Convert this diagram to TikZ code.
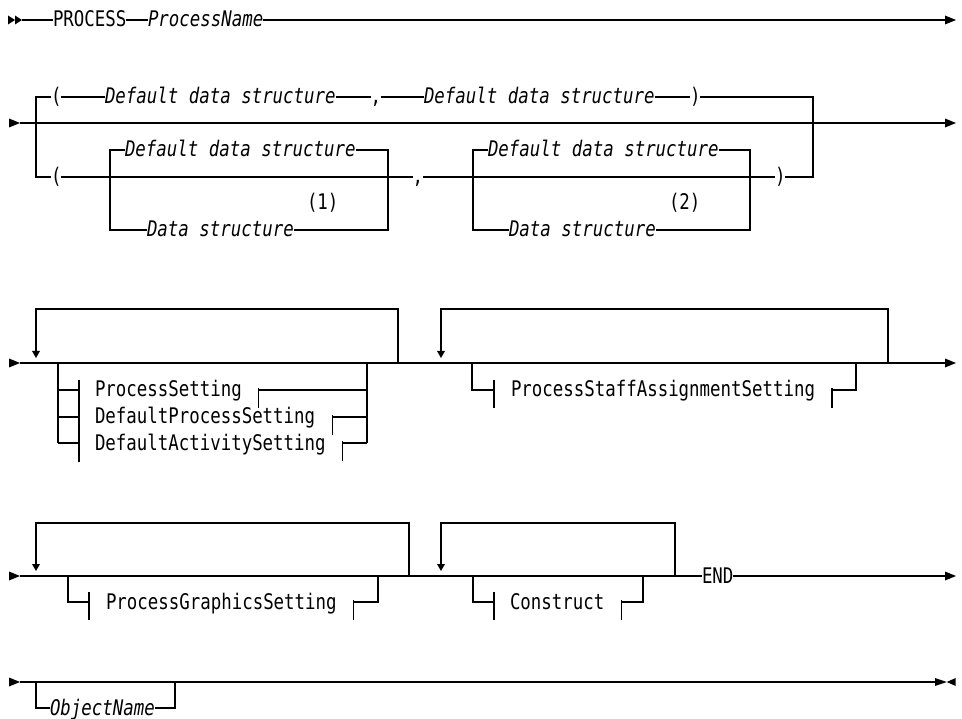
\documentclass[tikz,border=0pt]{standalone}
\usepackage{fontspec}
\newfontfamily\dgmfont[FakeStretch=0.81]{DejaVu Sans Mono}
\newcommand\dgmup{\dgmfont\fontsize{21.5}{24}\selectfont}
\newcommand\dgmit{\dgmfont\itshape\fontsize{21.5}{24}\selectfont}
\tikzset{
  ln/.style={line width=1.2pt, line cap=butt},
  txt/.style={inner sep=0pt, outer sep=0pt, anchor=west, text height=14pt, text depth=0pt, font=\dgmup},
  itx/.style={txt, font=\dgmit},
  rtri/.pic={\fill (-11,-4.5) -- (0,0) -- (-11,4.5) -- cycle;},
  rtris/.pic={\fill (-7,-4.5) -- (0,0) -- (-7,4.5) -- cycle;},
  ltri/.pic={\fill (9,-4) -- (0,0) -- (9,4) -- cycle;},
  rtrie/.pic={\fill (-11.7,-4) -- (0,0) -- (-11.7,4) -- cycle;},
  dtri/.pic={\fill (-4,-7) -- (0,0) -- (4,-7) -- cycle;},
}
\begin{document}
\begin{tikzpicture}[x=1pt,y=-1pt]
\useasboundingbox (0,0) rectangle (962,719);

% ---------------- Row 1 ----------------
\pic at (15,20) {rtris};
\pic at (22,20) {rtris};
\node[txt] (p1) at (53,20) {PROCESS};
\node[itx] (p2) at (148,20) {ProcessName};
\coordinate (e1) at (945,20);
\draw[ln] (22,20) -- (p1.west);
\draw[ln] (p1.east) -- (p2.west);
\draw[ln] (p2.east) -- (e1);
\pic at (956,20) {rtri};

% ---------------- Row 2 ----------------
\pic at (20,123) {rtri};
\draw[ln] (20,123) -- (945,123);
\pic at (956,123) {rtri};
% top branch
\node[txt] (lp1) at (51,97) {(};
\node[itx] (d1) at (105,97) {Default data structure};
\node[txt] (cm1) at (370.5,97) {,};
\node[itx] (d2) at (424,97) {Default data structure};
\node[txt] (rp1) at (690,97) {)};
% bottom branch
\node[txt] (lp2) at (51,177) {(};
\node[txt] (cm2) at (412.5,177) {,};
\node[txt] (rp2) at (775,177) {)};
\draw[ln] (lp1.west) -- (36,97) -- (36,177) -- (lp2.west);
\draw[ln] (lp1.east) -- (d1.west);
\draw[ln] (d1.east) -- (cm1.west);
\draw[ln] (cm1.east) -- (d2.west);
\draw[ln] (d2.east) -- (rp1.west);
\draw[ln] (rp1.east) -- (813,97) -- (813,177) -- (rp2.east);
\draw[ln] (lp2.east) -- (cm2.west);
\draw[ln] (cm2.east) -- (rp2.west);
% box 1
\node[itx] (b1a) at (125,150) {Default data structure};
\node[itx] (b1b) at (147,230) {Data structure};
\node[txt] (n1) at (307,203) {(1)};
\draw[ln] (b1a.west) -- (110,150) -- (110,230) -- (b1b.west);
\draw[ln] (b1a.east) -- (388,150) -- (388,230) -- (b1b.east);
% box 2
\node[itx] (b2a) at (488,150) {Default data structure};
\node[itx] (b2b) at (509,230) {Data structure};
\node[txt] (n2) at (669,203) {(2)};
\draw[ln] (b2a.west) -- (473,150) -- (473,230) -- (b2b.west);
\draw[ln] (b2a.east) -- (750,150) -- (750,230) -- (b2b.east);

% ---------------- Row 3 ----------------
\pic at (20,363) {rtri};
\draw[ln] (20,363) -- (945,363);
\pic at (956,363) {rtri};
% loop 1
\draw[ln] (36,352) -- (36,309) -- (398,309) -- (398,363);
\pic at (36,358) {dtri};
\node[txt] (s1) at (95,390) {ProcessSetting};
\node[txt] (s2) at (95,417) {DefaultProcessSetting};
\node[txt] (s3) at (95,443) {DefaultActivitySetting};
\draw[ln] (58,363) -- (58,443);
\draw[ln] (58,390) -- (79,390);
\draw[ln] (58,417) -- (79,417);
\draw[ln] (58,443) -- (79,443);
\draw[ln] (79,380) -- (79,462);
\draw[ln] ([shift={(17,-2)}]s1.east) -- ([shift={(17,18)}]s1.east);
\draw[ln] ([shift={(17,0)}]s1.east) -- (367,390);
\draw[ln] ([shift={(17,-2)}]s2.east) -- ([shift={(17,18)}]s2.east);
\draw[ln] ([shift={(17,0)}]s2.east) -- (367,417);
\draw[ln] ([shift={(17,-2)}]s3.east) -- ([shift={(17,18)}]s3.east);
\draw[ln] ([shift={(17,0)}]s3.east) -- (367,443);
\draw[ln] (367,363) -- (367,443);
% loop 2
\draw[ln] (441,352) -- (441,309) -- (888,309) -- (888,363);
\pic at (441,358) {dtri};
\node[txt] (t1) at (511,390) {ProcessStaffAssignmentSetting};
\draw[ln] (472,363) -- (472,390) -- (494,390);
\draw[ln] (494,380) -- (494,408);
\draw[ln] ([shift={(17,-2)}]t1.east) -- ([shift={(17,18)}]t1.east);
\draw[ln] ([shift={(17,0)}]t1.east) -- (856,390) -- (856,363);

% ---------------- Row 4 ----------------
\pic at (20,576) {rtri};
\node[txt] (en) at (702,576) {END};
\draw[ln] (20,576) -- (en.west);
\draw[ln] (en.east) -- (945,576);
\pic at (956,576) {rtri};
% loop 1
\draw[ln] (36,565) -- (36,523) -- (409,523) -- (409,576);
\pic at (36,571) {dtri};
\node[txt] (g1) at (106,602) {ProcessGraphicsSetting};
\draw[ln] (68,576) -- (68,602) -- (89,602);
\draw[ln] (89,592) -- (89,620);
\draw[ln] ([shift={(17,-2)}]g1.east) -- ([shift={(17,18)}]g1.east);
\draw[ln] ([shift={(17,0)}]g1.east) -- (378,602) -- (378,576);
% loop 2
\draw[ln] (441,565) -- (441,523) -- (675,523) -- (675,576);
\pic at (441,571) {dtri};
\node[txt] (c1) at (510,602) {Construct};
\draw[ln] (473,576) -- (473,602) -- (494,602);
\draw[ln] (494,592) -- (494,620);
\draw[ln] ([shift={(17,-2)}]c1.east) -- ([shift={(17,18)}]c1.east);
\draw[ln] ([shift={(17,0)}]c1.east) -- (643,602) -- (643,576);

% ---------------- Row 5 ----------------
\pic at (20,682) {rtri};
\draw[ln] (20,682) -- (935,682);
\node[itx] (o1) at (50,708) {ObjectName};
\draw[ln] (36,682) -- (36,708) -- (o1.west);
\draw[ln] (o1.east) -- (175,708) -- (175,682);
\pic at (946.7,682) {rtrie};
\pic at (946.7,682) {ltri};
\end{tikzpicture}
\end{document}
